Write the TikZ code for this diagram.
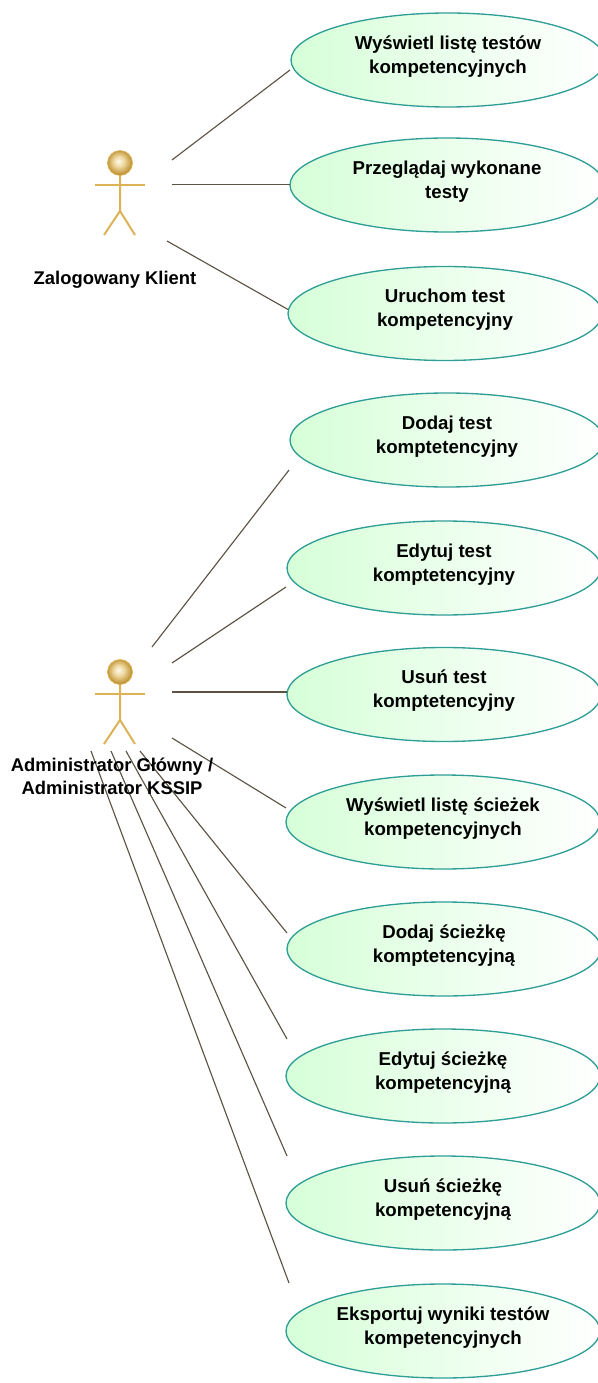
\documentclass[tikz,border=0pt]{standalone}
\usepackage{fontspec}
\setmainfont{Liberation Sans}
\usetikzlibrary{shapes.geometric,calc}
\definecolor{tealline}{HTML}{2F9E96}
\definecolor{connline}{HTML}{5C5344}
\definecolor{actorline}{HTML}{DDB257}
\definecolor{ucleft}{HTML}{D6FFD8}
\pgfdeclareradialshading{headball}{\pgfpoint{-3bp}{4bp}}{rgb(0bp)=(1,0.98,0.93);rgb(11bp)=(0.93,0.84,0.62);rgb(24bp)=(0.76,0.59,0.22);rgb(50bp)=(0.76,0.59,0.22)}
\tikzset{
  ucase/.style={ellipse,draw=tealline,line width=1pt,left color=ucleft,right color=white,
    minimum width=235.5pt,minimum height=70.5pt,inner sep=0pt,outer sep=0pt,
    font=\fontsize{14}{18}\selectfont\bfseries,text=black},
  actorbox/.style={rectangle,minimum width=78pt,minimum height=78pt,inner sep=0pt,outer sep=0pt},
  conn/.style={draw=connline,line width=0.85pt},
  limb/.style={draw=actorline,line width=1.5pt},
  alabel/.style={align=center,inner sep=0pt,font=\fontsize{13.8}{17.25}\selectfont\bfseries,text=black},
}
\newcommand{\stickman}[2]{%
  \draw[limb] (#1-25,#2+22) -- (#1+25,#2+22);
  \draw[limb] (#1,#2+12) -- (#1,#2+48) -- (#1-16,#2+72);
  \draw[limb] (#1,#2+48) -- (#1+15,#2+72);
  \path[shading=headball,draw=actorline,line width=0.5pt] (#1,#2) circle[radius=12.5];
}
\newcommand{\uctext}[1]{\raisebox{-0.9pt}[0pt][0pt]{\begin{tabular}{@{}c@{}}#1\end{tabular}}}
\begin{document}
\begin{tikzpicture}[x=0.75pt,y=-0.75pt]
\useasboundingbox (0,0) rectangle (598,1383);
\clip (0,0) rectangle (598,1383);
\node[ucase] (e1) at (448,60) {\uctext{Wyświetl listę testów\\kompetencyjnych}};
\node[ucase] (e2) at (447,185) {\uctext{Przeglądaj wykonane\\testy}};
\node[ucase] (e3) at (445,313.5) {\uctext{Uruchom test\\kompetencyjny}};
\node[ucase] (e4) at (447,440) {\uctext{Dodaj test\\komptetencyjny}};
\node[ucase] (e5) at (444,568) {\uctext{Edytuj test\\komptetencyjny}};
\node[ucase] (e6) at (444,694.5) {\uctext{Usuń test\\komptetencyjny}};
\node[ucase] (e7) at (443,822) {\uctext{Wyświetl listę ścieżek\\kompetencyjnych}};
\node[ucase] (e8) at (444,949) {\uctext{Dodaj ścieżkę\\komptetencyjną}};
\node[ucase] (e9) at (443,1076) {\uctext{Edytuj ścieżkę\\kompetencyjną}};
\node[ucase] (e10) at (443,1203) {\uctext{Usuń ścieżkę\\kompetencyjną}};
\node[ucase] (e11) at (443,1331) {\uctext{Eksportuj wyniki testów\\kompetencyjnych}};
\stickman{120}{163}
\stickman{120}{672}
\node[actorbox] (klient) at (120,191) {};
\node[actorbox] (admin) at (120,699) {};
\draw[conn] ($(klient)+(52,-31)$) -- ($(e1)+(-158,10)$);
\draw[conn] ($(klient)+(52,-6.5)$) -- ($(e2)+(-157,-0.5)$);
\draw[conn] ($(klient)+(47,50)$) -- ($(e3)+(-157,-4)$);
\draw[conn] ($(admin)+(32,-52)$) -- ($(e4)+(-158,30)$);
\draw[conn] ($(admin)+(52,-36)$) -- ($(e5)+(-158,19)$);
\draw[conn] ($(admin)+(52,-7)$) -- ($(e6)+(-157,-2.5)$);
\draw[conn] ($(admin)+(52,39)$) -- ($(e7)+(-157,-14)$);
\draw[conn] ($(admin)+(20,52)$) -- ($(e8)+(-157,-16)$);
\draw[conn] ($(admin)+(6,52)$) -- ($(e9)+(-156,-37)$);
\draw[conn] ($(admin)+(-9,52)$) -- ($(e10)+(-156,-47)$);
\draw[conn] ($(admin)+(-29,52)$) -- ($(e11)+(-154,-48)$);
\node[alabel] (lklient) at (115,279.5) {Zalogowany Klient};
\node[alabel] (ladmin) at (112,776.5) {Administrator Główny /\\Administrator KSSIP};
\end{tikzpicture}
\end{document}
